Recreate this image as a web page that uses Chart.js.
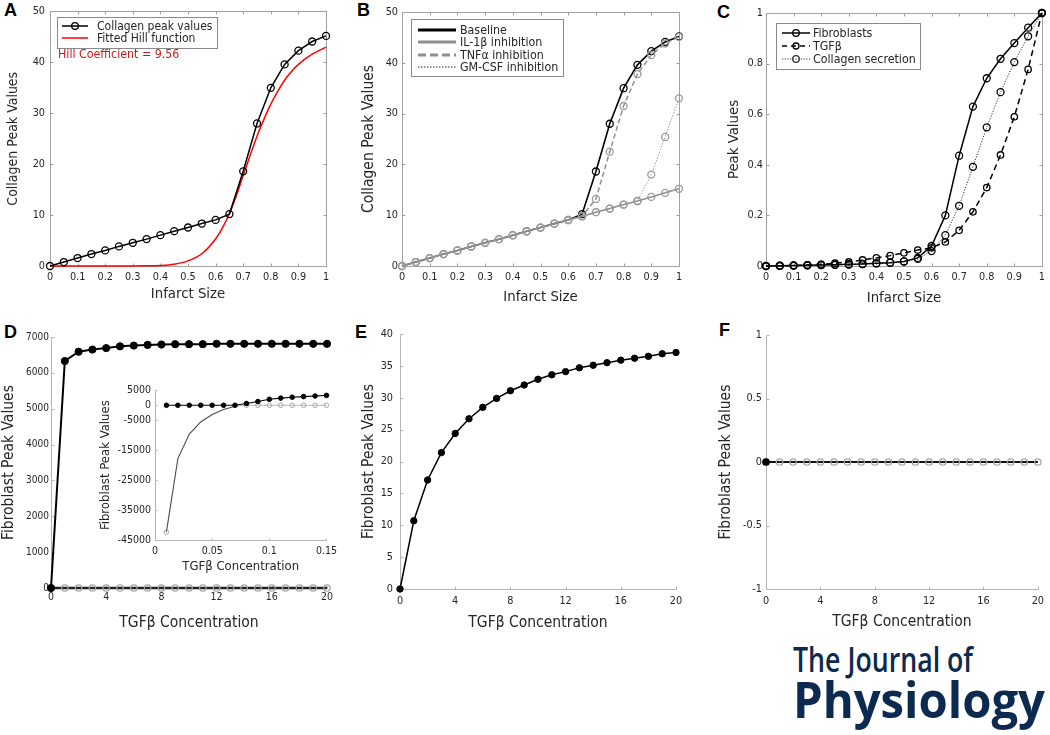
<!DOCTYPE html>
<html>
<head>
<meta charset="utf-8">
<script src="https://cdn.jsdelivr.net/npm/chart.js@4.4.1/dist/chart.umd.min.js"></script>
<style>
  body { margin: 0; background: #fff; width: 1050px; height: 735px; position: relative; overflow: hidden; }
  canvas { position: absolute; }
  .tag { position: absolute; font: bold 18px "Liberation Sans", Arial, sans-serif; line-height: 18px; color: #000; }
  .logo { position: absolute; left: 793px; color: #0c2a4f; font-family: "Open Sans", sans-serif; font-weight: 700;
          white-space: nowrap; transform-origin: 0 0; }
</style>
</head>
<body>
<div class="tag" style="left:4px;top:1px">A</div>
<div class="tag" style="left:357px;top:1px">B</div>
<div class="tag" style="left:717px;top:3px">C</div>
<div class="tag" style="left:4px;top:323px">D</div>
<div class="tag" style="left:355px;top:323px">E</div>
<div class="tag" style="left:719px;top:321px">F</div>
<div class="logo" id="logo1" style="top:642px;font-size:34px;line-height:34px;font-weight:600">The Journal of</div>
<div class="logo" id="logo2" style="top:674px;font-size:50px;line-height:50px">Physiology</div>

<script>
// ── Data ────────────────────────────────────────────────────
const infarctSize  = [0, 0.05, 0.1, 0.15, 0.2, 0.25, 0.3, 0.35, 0.4, 0.45, 0.5, 0.55, 0.6, 0.65, 0.7, 0.75, 0.8, 0.85, 0.9, 0.95, 1];
const collagenPeak = [0, 0.78, 1.56, 2.35, 3.06, 3.85, 4.56, 5.28, 6.06, 6.84, 7.56, 8.34, 9.06, 10.2, 18.6, 28.0, 35.0, 39.6, 42.3, 44.1, 45.2];
const hillX = [0, 0.3, 0.35, 0.4, 0.45, 0.5, 0.55, 0.6, 0.625, 0.65, 0.675, 0.7, 0.725, 0.75, 0.775, 0.8, 0.825, 0.85, 0.875, 0.9, 0.95, 1];
const hillY = [0, 0, 0.03, 0.1, 0.35, 1.0, 2.4, 5.3, 7.5, 10.3, 13.8, 17.8, 21.7, 25.5, 28.8, 31.8, 34.3, 36.5, 38.2, 39.6, 41.6, 43.0];

const baselineB  = collagenPeak;
const il1bInhib  = [0, 0.78, 1.56, 2.35, 3.06, 3.85, 4.56, 5.28, 6.06, 6.84, 7.56, 8.34, 9.06, 9.8, 10.6, 11.3, 12.1, 12.8, 13.6, 14.4, 15.2];
const tnfaInhib  = [0, 0.78, 1.56, 2.35, 3.06, 3.85, 4.56, 5.28, 6.06, 6.84, 7.56, 8.34, 9.06, 9.8, 13.2, 22.5, 31.5, 37.8, 41.5, 43.8, 45.1];
const gmcsfInhib = [0, 0.78, 1.56, 2.35, 3.06, 3.85, 4.56, 5.28, 6.06, 6.84, 7.56, 8.34, 9.06, 9.8, 10.6, 11.3, 12.1, 12.8, 18.0, 25.4, 33.0];

const fibroNorm    = [0, 0.001, 0.002, 0.003, 0.004, 0.005, 0.007, 0.008, 0.011, 0.013, 0.018, 0.032, 0.079, 0.2, 0.436, 0.63, 0.742, 0.819, 0.881, 0.942, 1.0];
const tgfbNorm     = [0, 0.001, 0.002, 0.004, 0.007, 0.011, 0.016, 0.024, 0.032, 0.041, 0.052, 0.063, 0.072, 0.095, 0.141, 0.214, 0.31, 0.439, 0.59, 0.777, 1.0];
const collagenNorm = [0, 0.001, 0.002, 0.003, 0.004, 0.005, 0.006, 0.008, 0.01, 0.013, 0.018, 0.028, 0.059, 0.122, 0.238, 0.392, 0.548, 0.687, 0.806, 0.908, 1.0];

const tgfbConc   = [0, 1, 2, 3, 4, 5, 6, 7, 8, 9, 10, 11, 12, 13, 14, 15, 16, 17, 18, 19, 20];
const fibroPeakD = [0, 6330, 6590, 6650, 6690, 6740, 6760, 6780, 6790, 6800, 6800, 6800, 6810, 6810, 6810, 6810, 6810, 6810, 6810, 6810, 6810];
const otherPeakD = [0, 0, 0, 0, 0, 0, 0, 0, 0, 0, 0, 0, 0, 0, 0, 0, 0, 0, 0, 0, 0];

const insetConc  = [0.01, 0.02, 0.03, 0.04, 0.05, 0.06, 0.07, 0.08, 0.09, 0.1, 0.11, 0.12, 0.13, 0.14, 0.15];
const insetFibro = [0, 0, 0, 0, 0, 0, 0, 600, 1250, 2000, 2400, 2700, 2900, 3100, 3300];
const insetOther = [-42300, -17800, -9600, -5560, -3070, -1430, -330, 0, 0, 0, 0, 0, 0, 0, 0];

const fibroPeakE = [0, 10.7, 17.1, 21.4, 24.4, 26.7, 28.5, 29.9, 31.1, 32.0, 32.9, 33.6, 34.1, 34.7, 35.1, 35.5, 35.9, 36.2, 36.5, 36.9, 37.1];
const fibroPeakF = [0, 0, 0, 0, 0, 0, 0, 0, 0, 0, 0, 0, 0, 0, 0, 0, 0, 0, 0, 0, 0];

// tick labels
const infarctTicks = [0, 0.1, 0.2, 0.3, 0.4, 0.5, 0.6, 0.7, 0.8, 0.9, 1];
const collagenTicks = [0, 10, 20, 30, 40, 50];
const peakTicks = [0, 0.2, 0.4, 0.6, 0.8, 1];
const concTicks = [0, 4, 8, 12, 16, 20];
const fibroTicksD = [0, 1000, 2000, 3000, 4000, 5000, 6000, 7000];
const insetXTicks = [0, 0.05, 0.1, 0.15];
const insetYTicks = [5000, 0, -5000, -15000, -25000, -35000, -45000];
const fibroTicksE = [0, 5, 10, 15, 20, 25, 30, 35, 40];
const fibroTicksF = [-1, -0.5, 0, 0.5, 1];

// ── Style ───────────────────────────────────────────────────
const FONT = '"DejaVu Sans Condensed", "DejaVu Sans", sans-serif';
const INK = '#262626';
const GREY = '#8f8f8f';
Chart.defaults.font.family = FONT;
Chart.defaults.color = INK;

const fmt = v => String(+(+v).toFixed(3));

// MATLAB-like axes: box or L-shape, inward ticks
const matAxes = {
  id: 'matAxes',
  beforeDatasetsDraw(chart, args, o) {
    if (!o.color) return;
    const { ctx, chartArea: a, scales: { x, y } } = chart;
    const L = Math.round(a.left) + 0.5, R = Math.round(a.right) + 0.5;
    const T = Math.round(a.top) + 0.5, B = Math.round(a.bottom) + 0.5;
    const t = o.tick || 3;
    ctx.save();
    ctx.strokeStyle = o.color; ctx.lineWidth = 1;
    ctx.beginPath();
    if (o.box) ctx.rect(L, T, R - L, B - T);
    else { ctx.moveTo(L, T); ctx.lineTo(L, B); ctx.lineTo(R, B); }
    x.ticks.forEach(k => {
      const px = Math.round(x.getPixelForValue(k.value)) + 0.5;
      ctx.moveTo(px, B); ctx.lineTo(px, B - t);
      if (o.box) { ctx.moveTo(px, T); ctx.lineTo(px, T + t); }
    });
    y.ticks.forEach(k => {
      const py = Math.round(y.getPixelForValue(k.value)) + 0.5;
      ctx.moveTo(L, py); ctx.lineTo(L + t, py);
      if (o.box) { ctx.moveTo(R, py); ctx.lineTo(R - t, py); }
    });
    ctx.stroke();
    ctx.restore();
  }
};

// legend box drawn inside the plot area
const boxLegend = {
  id: 'boxLegend',
  afterDatasetsDraw(chart, args, o) {
    if (!o.items) return;
    const ctx = chart.ctx;
    ctx.save();
    ctx.fillStyle = '#fff'; ctx.fillRect(o.x, o.y, o.w, o.h);
    ctx.strokeStyle = '#8a8a8a'; ctx.lineWidth = 1; ctx.strokeRect(o.x + 0.5, o.y + 0.5, o.w, o.h);
    ctx.font = `${o.size}px ${FONT}`; ctx.textBaseline = 'middle'; ctx.textAlign = 'left';
    o.items.forEach((it, i) => {
      const yy = o.rows[i];
      ctx.strokeStyle = it.color; ctx.lineWidth = it.width; ctx.setLineDash(it.dash || []);
      ctx.beginPath(); ctx.moveTo(o.x0, yy); ctx.lineTo(o.x1, yy); ctx.stroke();
      ctx.setLineDash([]);
      if (it.marker) {
        ctx.beginPath(); ctx.fillStyle = '#fff';
        ctx.arc((o.x0 + o.x1) / 2, yy, it.marker, 0, Math.PI * 2);
        ctx.lineWidth = 1.3; ctx.stroke();
      }
      ctx.fillStyle = INK;
      ctx.fillText(chart.data.datasets[it.ds].label, o.tx, yy + 0.5);
    });
    ctx.restore();
  }
};

const note = {
  id: 'note',
  afterDatasetsDraw(chart, args, o) {
    if (!o.text) return;
    const ctx = chart.ctx;
    ctx.save();
    ctx.font = `${o.size}px ${FONT}`; ctx.fillStyle = o.color;
    ctx.textBaseline = 'middle'; ctx.textAlign = 'left';
    ctx.fillText(o.text, o.x, o.y);
    ctx.restore();
  }
};

Chart.register(matAxes, boxLegend, note);

// ── Helpers ─────────────────────────────────────────────────
function mount(id, left, top, w, h) {
  const c = document.createElement('canvas');
  c.id = id; c.width = w; c.height = h;
  Object.assign(c.style, { left: left + 'px', top: top + 'px', width: w + 'px', height: h + 'px' });
  document.body.appendChild(c);
  return c.getContext('2d');
}

function series(label, xs, ys, st) {
  return Object.assign({
    label, data: xs.map((x, i) => ({ x, y: ys[i] })),
    clip: false, tension: 0, fill: false, pointHoverRadius: 0, borderCapStyle: 'butt',
    pointBackgroundColor: 'transparent'
  }, st);
}

function axis(horizontal, vals, title, o) {
  const ax = {
    type: 'linear', min: Math.min(...vals), max: Math.max(...vals),
    grid: { display: false, drawTicks: false }, border: { display: false },
    afterBuildTicks: s => { s.ticks = vals.map(v => ({ value: v })); },
    ticks: { padding: o.pad, autoSkip: false, maxRotation: 0, color: INK, font: { size: o.size || 10.8 }, callback: fmt },
    title: { display: true, text: title, color: INK, font: { size: o.tsize || 14.8 },
             padding: horizontal ? { top: 0, bottom: o.tpad } : { top: o.tpad, bottom: 0 } }
  };
  if (horizontal) ax.afterFit = s => { s.height = o.fit; };
  else ax.afterFit = s => { s.width = o.fit; };
  return ax;
}

function build(ctx, datasets, pad, x, y, plugins) {
  return new Chart(ctx, {
    type: 'line',
    data: { datasets },
    options: {
      responsive: false, animation: false, events: [],
      layout: { padding: pad },
      scales: { x, y },
      plugins: Object.assign({ legend: { display: false }, tooltip: { enabled: false } }, plugins)
    }
  });
}

const hollow = (color, r) => ({ pointRadius: r, pointBorderColor: color, pointBorderWidth: 1.3, pointBackgroundColor: 'transparent' });
const filled = (color, r) => ({ pointRadius: r, pointBorderColor: color, pointBorderWidth: 1, pointBackgroundColor: color });

// ── A ───────────────────────────────────────────────────────
build(mount('chA', 0, 0, 340, 310), [
  series('Collagen peak values', infarctSize, collagenPeak, Object.assign({ borderColor: '#000', borderWidth: 1.5 }, hollow('#000', 3.5))),
  series('Fitted Hill function', hillX, hillY, { borderColor: '#ff0000', borderWidth: 1.5, pointRadius: 0, cubicInterpolationMode: 'monotone' })
], { top: 10, right: 14, left: 0, bottom: 0 },
  axis(true, infarctTicks, 'Infarct Size', { pad: 5, fit: 44, tpad: 7 }),
  axis(false, collagenTicks, 'Collagen Peak Values', { pad: 5, fit: 50, tpad: 5, tsize: 14 }),
  {
    matAxes: { color: '#a0a0a0', box: true },
    boxLegend: { x: 57, y: 17, w: 160, h: 31, rows: [26, 38], x0: 62, x1: 88, tx: 97, size: 12,
                 items: [{ ds: 0, color: '#000', width: 1.5, marker: 3.3 }, { ds: 1, color: '#ff0000', width: 1.5 }] },
    note: { text: 'Hill Coefficient = 9.56', x: 58, y: 55, size: 12.3, color: '#cc1a1a' }
  });

// ── B ───────────────────────────────────────────────────────
const stepB = (i) => i < 13 ? 0 : 3.5;
build(mount('chB', 350, 0, 340, 310), [
  series('Baseline', infarctSize, baselineB, Object.assign({ borderColor: '#000', borderWidth: 1.6, order: 3 }, hollow('#000', 3.5), { pointRadius: infarctSize.map((v, i) => stepB(i)) })),
  series('IL-1β inhibition', infarctSize, il1bInhib, Object.assign({ borderColor: GREY, borderWidth: 1.6, order: 0 }, hollow('#9a9a9a', 3.5))),
  series('TNFα inhibition', infarctSize, tnfaInhib, Object.assign({ borderColor: GREY, borderWidth: 1.5, borderDash: [5, 3], order: 2 }, hollow('#9a9a9a', 3.5))),
  series('GM-CSF inhibition', infarctSize, gmcsfInhib, Object.assign({ borderColor: '#9a9a9a', borderWidth: 1, borderDash: [1.5, 1.5], order: 1 }, hollow('#9a9a9a', 3.5)))
], { top: 12, right: 11, left: 0, bottom: 0 },
  axis(true, infarctTicks, 'Infarct Size', { pad: 5, fit: 44, tpad: 4 }),
  axis(false, collagenTicks, 'Collagen Peak Values', { pad: 4, fit: 52, tpad: 10, tsize: 15.5 }),
  {
    matAxes: { color: '#a0a0a0', box: true },
    boxLegend: { x: 61, y: 19, w: 152, h: 57, rows: [30, 42, 55, 67], x0: 68, x1: 106, tx: 110, size: 12.3,
                 items: [{ ds: 0, color: '#000', width: 3 }, { ds: 1, color: GREY, width: 3 },
                         { ds: 2, color: GREY, width: 3, dash: [8, 4] }, { ds: 3, color: GREY, width: 2, dash: [1.5, 1.5] }] }
  });

// ── C ───────────────────────────────────────────────────────
build(mount('chC', 700, 0, 350, 310), [
  series('Fibroblasts', infarctSize, fibroNorm, Object.assign({ borderColor: '#000', borderWidth: 1.5 }, hollow('#000', 3.5))),
  series('TGFβ', infarctSize, tgfbNorm, Object.assign({ borderColor: '#000', borderWidth: 1.5, borderDash: [6, 4] }, hollow('#000', 3.2))),
  series('Collagen secretion', infarctSize, collagenNorm, Object.assign({ borderColor: '#333', borderWidth: 1, borderDash: [1.2, 1.5] }, hollow('#000', 3.5)))
], { top: 13, right: 7, left: 0, bottom: 0 },
  axis(true, infarctTicks, 'Infarct Size', { pad: 5, fit: 44, tpad: 3 }),
  axis(false, peakTicks, 'Peak Values', { pad: 3, fit: 66, tpad: 25 }),
  {
    matAxes: { color: '#a0a0a0', box: true },
    boxLegend: { x: 76, y: 23, w: 144, h: 46, rows: [33, 46, 59], x0: 82, x1: 110, tx: 113, size: 12.3,
                 items: [{ ds: 0, color: '#000', width: 1.5, marker: 3.3 }, { ds: 1, color: '#000', width: 1.5, dash: [5, 4], marker: 3 },
                         { ds: 2, color: '#333', width: 1, dash: [1.2, 1.5], marker: 3.3 }] }
  });

// ── D ───────────────────────────────────────────────────────
build(mount('chD', 0, 310, 340, 325), [
  series('Fibroblasts', tgfbConc, fibroPeakD, Object.assign({ borderColor: '#000', borderWidth: 2, order: 0 }, filled('#000', 3.6))),
  series('Other', tgfbConc, otherPeakD, Object.assign({ borderColor: '#222', borderWidth: 2.5, order: 1 }, hollow('#a5a5a5', 3.2)))
], { top: 27, right: 13, left: 0, bottom: 0 },
  axis(true, concTicks, 'TGFβ Concentration', { pad: 3, fit: 47, tpad: 3, size: 10.5, tsize: 15.5 }),
  axis(false, fibroTicksD, 'Fibroblast Peak Values', { pad: 2, fit: 51, tpad: 0, size: 10, tsize: 15.5 }),
  { matAxes: { color: '#b5b5b5', box: false } });

// D inset
build(mount('chDin', 95, 380, 247, 200), [
  series('Fibroblasts', insetConc, insetFibro, Object.assign({ borderColor: '#000', borderWidth: 1.1, order: 0 }, filled('#000', 2.3))),
  series('Other', insetConc, insetOther, Object.assign({
    borderWidth: 1.1, order: 1,
    segment: { borderColor: c => c.p0.parsed.x >= 0.069 ? '#b8b8b8' : '#4a4a4a' }, borderColor: '#4a4a4a'
  }, hollow('#a8a8a8', 2.3), { pointBorderWidth: 1, pointRadius: insetConc.map(v => (v > 0.015 && v < 0.075) ? 0 : 2.3) }))
], { top: 7, right: 15, left: 0, bottom: 0 },
  axis(true, insetXTicks, 'TGFβ Concentration', { pad: 5, fit: 40, tpad: 6, size: 10.5, tsize: 13 }),
  axis(false, insetYTicks, 'Fibroblast Peak Values', { pad: 4, fit: 60, tpad: 3, size: 10.5, tsize: 13 }),
  { matAxes: { color: '#b5b5b5', box: false, tick: 2 } });

// ── E ───────────────────────────────────────────────────────
build(mount('chE', 350, 310, 340, 325), [
  series('Fibroblasts', tgfbConc, fibroPeakE, Object.assign({ borderColor: '#000', borderWidth: 1.5 }, filled('#000', 3.2)))
], { top: 24, right: 14, left: 0, bottom: 0 },
  axis(true, concTicks, 'TGFβ Concentration', { pad: 6, fit: 46, tpad: 3, tsize: 15.5 }),
  axis(false, fibroTicksE, 'Fibroblast Peak Values', { pad: 7, fit: 50, tpad: 10, tsize: 15.5 }),
  { matAxes: { color: '#b5b5b5', box: false } });

// ── F ───────────────────────────────────────────────────────
build(mount('chF', 700, 310, 350, 325), [
  series('Fibroblasts', tgfbConc, fibroPeakF, Object.assign({ borderColor: '#111', borderWidth: 2 }, hollow('#a5a5a5', 3.2), {
    pointBackgroundColor: tgfbConc.map((v, i) => i === 0 ? '#000' : 'transparent'),
    pointBorderColor: tgfbConc.map((v, i) => i === 0 ? '#000' : '#a5a5a5')
  }))
], { top: 25, right: 8, left: 0, bottom: 0 },
  axis(true, concTicks, 'TGFβ Concentration', { pad: 6, fit: 46, tpad: 4, tsize: 15.5 }),
  axis(false, fibroTicksF, 'Fibroblast Peak Values', { pad: 4, fit: 66, tpad: 17, tsize: 15.5 }),
  { matAxes: { color: '#b5b5b5', box: false } });

// ── Journal logo: squeeze to the printed width ──────────────
function fitWidth(id, width) {
  const el = document.getElementById(id);
  el.style.transform = `scaleX(${width / el.getBoundingClientRect().width})`;
}
fitWidth('logo1', 180);
fitWidth('logo2', 252);
</script>
</body>
</html>
